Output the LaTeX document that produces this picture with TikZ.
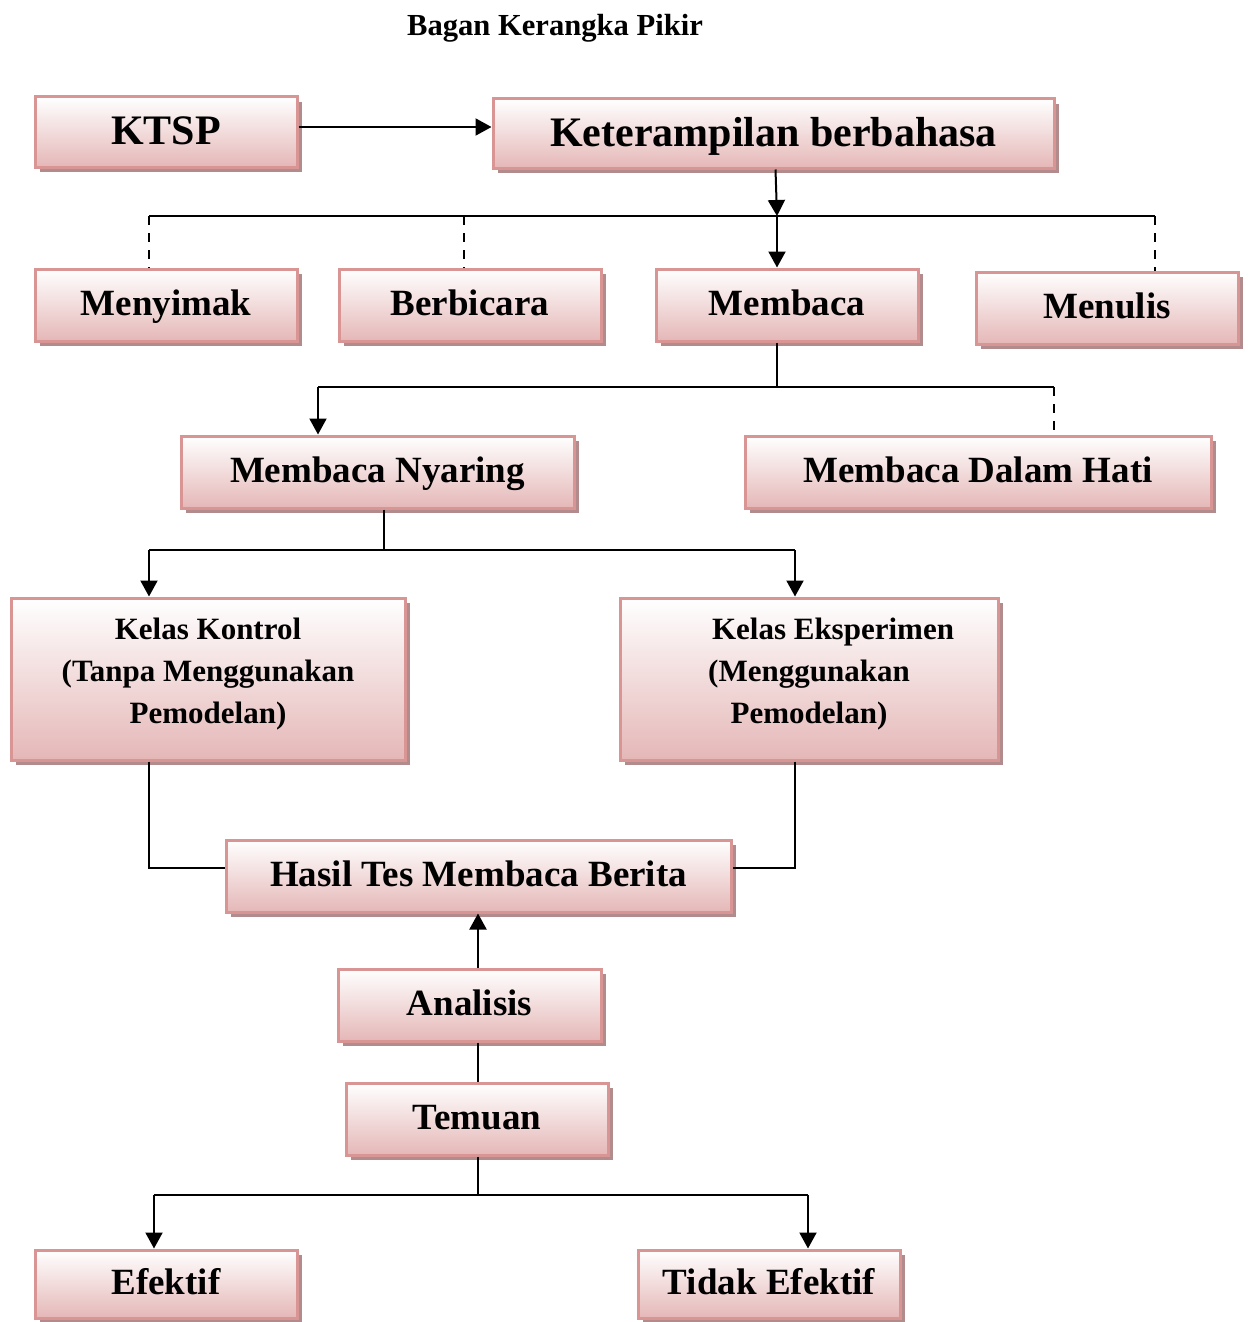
\documentclass[tikz,border=0pt]{standalone}
\usepackage{fontspec}
\setmainfont{Liberation Serif}
\usetikzlibrary{arrows.meta,shadows,calc}
\definecolor{bord}{RGB}{217,149,148}
\definecolor{pinkb}{RGB}{229,183,183}
\definecolor{shad}{RGB}{178,140,140}
\tikzset{
 box/.style={draw=bord, line width=1.5pt, top color=white, bottom color=pinkb, inner sep=0pt, align=center,
   font=\bfseries\fontsize{18.5}{22}\selectfont, text height=15.4pt, text depth=4.7pt,
   drop shadow={shadow xshift=2.5pt, shadow yshift=-2.5pt, fill=shad, opacity=1}},
 bigbox/.style={box, font=\bfseries\fontsize{21}{25}\selectfont, text height=17.5pt, text depth=4.6pt},
 smallbox/.style={draw=bord, line width=1.5pt, top color=white, bottom color=pinkb, inner sep=0pt,
   font=\bfseries\fontsize{15.5}{21}\selectfont,
   drop shadow={shadow xshift=2.5pt, shadow yshift=-2.5pt, fill=shad, opacity=1}},
 conn/.style={line width=1pt, draw=black},
 arr/.style={conn, -{Triangle[length=8pt,width=8.5pt]}},
 dsh/.style={conn, dash pattern=on 4.5pt off 4pt},
 ttl/.style={font=\bfseries\fontsize{15.3}{18}\selectfont, inner sep=0pt}
}
\newcommand\bx[7]{%
 \pgfmathsetmacro\bw{(#5-#3)*0.5}%
 \pgfmathsetmacro\bh{(#6-#4)*0.5}%
 \node[#2, minimum width=\bw pt, minimum height=\bh pt] (#1) at ({(#3+#5)/2},{(#4+#6)/2}) {#7};}
\begin{document}
\begin{tikzpicture}[x=0.5pt,y=-0.5pt]
\useasboundingbox (0,0) rectangle (1248,1322);
\node[ttl] (title) at (555,28) {Bagan Kerangka Pikir};
% boxes
\bx{ktsp}{bigbox}{35}{97}{297}{167}{KTSP}
\bx{ker}{bigbox}{493}{99}{1054}{168}{Keterampilan berbahasa}
\bx{mey}{box}{35}{269}{297}{341}{Menyimak}
\bx{ber}{box}{339}{269}{601}{341}{Berbicara}
\bx{mem}{box}{656}{269}{918}{341}{Membaca}
\bx{mnl}{box}{976}{272}{1238}{344}{Menulis}
\bx{nya}{box}{181}{436}{574}{508}{Membaca Nyaring}
\bx{hat}{box}{745}{436}{1211}{508}{Membaca Dalam Hati}
\bx{kon}{smallbox}{11}{598}{405}{760}{\begin{tabular}{@{}c@{}}Kelas Kontrol\\(Tanpa Menggunakan\\Pemodelan)\rule[-12.3pt]{0pt}{1pt}\end{tabular}}
\bx{eks}{smallbox}{620}{598}{998}{760}{\begin{tabular}{@{}c@{}}\hspace*{24pt}Kelas Eksperimen\\(Menggunakan\\Pemodelan)\rule[-12.3pt]{0pt}{1pt}\end{tabular}}
\bx{has}{box}{226}{840}{731}{912}{Hasil Tes Membaca Berita}
\bx{ana}{box}{338}{969}{601}{1041}{Analisis}
\bx{tem}{box}{346}{1083}{608}{1155}{Temuan}
\bx{efe}{box}{35}{1250}{297}{1318}{Efektif}
\bx{tid}{box}{638}{1250}{900}{1318}{Tidak Efektif}
% coordinates
\coordinate (k0) at (297,127);
\coordinate (b1) at (777,216);
\coordinate (b1L) at (149,216);
\coordinate (b1B) at (464,216);
\coordinate (b1R) at (1155,216);
\coordinate (b2) at (777,387);
\coordinate (b2L) at (318,387);
\coordinate (b2R) at (1054,387);
\coordinate (b3) at (384,550);
\coordinate (b3L) at (149,550);
\coordinate (b3R) at (795,550);
\coordinate (k1) at (149,868);
\coordinate (k2) at (795,868);
\coordinate (a1) at (478,1000);
\coordinate (b4) at (478,1195);
\coordinate (b4L) at (154,1195);
\coordinate (b4R) at (808,1195);
% connectors
\draw[arr] (k0 -| ktsp.east) -- (k0 -| ker.west);
\draw[arr] ([xshift=1pt]ker.south) -- (b1);
\draw[conn] (b1L) -- (b1R);
\draw[dsh] (b1L) -- (b1L |- mey.north);
\draw[dsh] (b1B) -- (b1B |- ber.north);
\draw[arr] (b1) -- (b1 |- mem.north);
\draw[dsh] (b1R) -- (b1R |- mnl.north);
\draw[conn] (b2 |- mem.south) -- (b2);
\draw[conn] (b2L) -- (b2R);
\draw[arr] (b2L) -- (b2L |- nya.north);
\draw[dsh] (b2R) -- (b2R |- hat.north);
\draw[conn] (b3 |- nya.south) -- (b3);
\draw[conn] (b3L) -- (b3R);
\draw[arr] (b3L) -- (b3L |- kon.north);
\draw[arr] (b3R) -- (b3R |- eks.north);
\draw[conn] (k1 |- kon.south) -- (k1) -- (k1 -| has.west);
\draw[conn] (k2 |- eks.south) -- (k2) -- (k2 -| has.east);
\draw[arr] (a1 |- ana.north) -- (a1 |- has.south);
\draw[conn] (a1 |- ana.south) -- (a1 |- tem.north);
\draw[conn] (b4 |- tem.south) -- (b4);
\draw[conn] (b4L) -- (b4R);
\draw[arr] (b4L) -- (b4L |- efe.north);
\draw[arr] (b4R) -- (b4R |- tid.north);
\end{tikzpicture}
\end{document}
